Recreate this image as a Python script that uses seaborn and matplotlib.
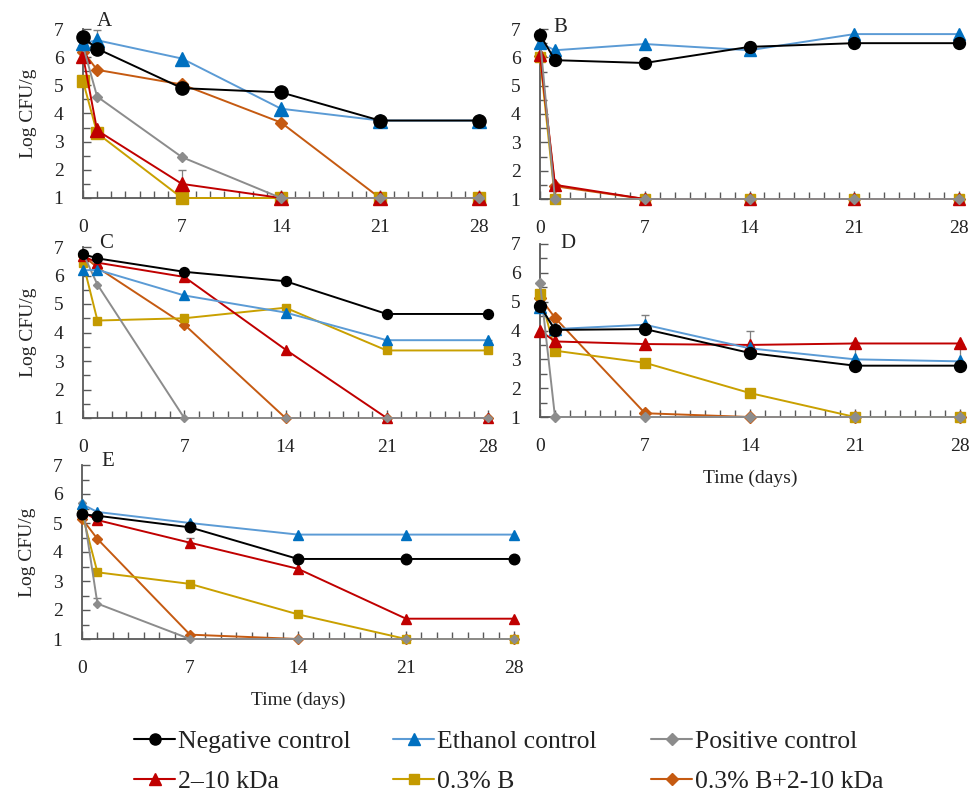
import matplotlib
matplotlib.use("Agg")
import matplotlib.pyplot as plt
from matplotlib.ticker import MultipleLocator
from matplotlib.lines import Line2D
import seaborn as sns
import pandas as pd

sns.set_theme(style="white")
plt.rcParams['font.family'] = ['Liberation Serif', 'DejaVu Serif']

days = [0, 1, 7, 14, 21, 28]
series = ["Negative control", "Ethanol control", "Positive control",
          "2\u201310 kDa", "0.3% B", "0.3% B+2-10 kDa"]

# Panel A
A_neg = [6.7, 6.3, 4.9, 4.75, 3.75, 3.75]
A_eth = [6.5, 6.6, 5.95, 4.17, 3.75, 3.75]
A_pos = [6.4, 4.6, 2.45, 1.0, 1.0, 1.0]
A_red = [6.05, 3.4, 1.5, 1.0, 1.0, 1.0]
A_gold = [5.15, 3.3, 1.0, 1.0, 1.0, 1.0]
A_orange = [6.2, 5.55, 5.03, 3.68, 1.0, 1.0]
# Panel B
B_neg = [6.8, 5.9, 5.8, 6.37, 6.5, 6.5]
B_eth = [6.5, 6.25, 6.47, 6.25, 6.82, 6.82]
B_pos = [6.65, 1.0, 1.0, 1.0, 1.0, 1.0]
B_red = [6.1, 1.5, 1.0, 1.0, 1.0, 1.0]
B_gold = [6.0, 1.0, 1.0, 1.0, 1.0, 1.0]
B_orange = [6.05, 1.45, 1.0, 1.0, 1.0, 1.0]
# Panel C
C_neg = [6.75, 6.6, 6.13, 5.8, 4.65, 4.65]
C_eth = [6.18, 6.2, 5.3, 4.7, 3.73, 3.73]
C_pos = [6.78, 5.68, 1.0, 1.0, 1.0, 1.0]
C_red = [6.68, 6.45, 5.95, 3.4, 1.0, 1.0]
C_gold = [6.45, 4.42, 4.5, 4.87, 3.37, 3.37]
C_orange = [6.7, 6.28, 4.28, 1.0, 1.0, 1.0]
# Panel D
D_neg = [4.85, 4.02, 4.05, 3.22, 2.78, 2.78]
D_eth = [4.8, 4.05, 4.2, 3.38, 3.0, 2.93]
D_pos = [5.65, 1.0, 1.0, 1.0, 1.0, 1.0]
D_red = [4.0, 3.62, 3.53, 3.5, 3.55, 3.55]
D_gold = [5.28, 3.3, 2.88, 1.83, 1.0, 1.0]
D_orange = [5.14, 4.44, 1.13, 1.0, 1.0, 1.0]
# Panel E
E_neg = [5.3, 5.25, 4.85, 3.76, 3.76, 3.76]
E_eth = [5.65, 5.38, 5.0, 4.6, 4.6, 4.6]
E_pos = [5.7, 2.22, 1.0, 1.0, 1.0, 1.0]
E_red = [5.4, 5.1, 4.32, 3.42, 1.7, 1.7]
E_gold = [5.33, 3.3, 2.9, 1.85, 1.0, 1.0]
E_orange = [5.15, 4.45, 1.15, 1.0, 1.0, 1.0]

# visible error bars: (panel, series index, day, error)
err_bars = [("A", 1, 1, 0.35), ("A", 3, 7, 0.5), ("A", 5, 14, 0.25),
            ("C", 4, 21, 0.35), ("C", 4, 28, 0.35), ("C", 5, 7, 0.2),
            ("D", 1, 7, 0.35), ("D", 1, 14, 0.6), ("D", 1, 21, 0.6),
            ("D", 1, 28, 0.6), ("D", 4, 1, 0.5), ("E", 2, 1, 0.2),
            ("E", 3, 7, 0.15)]

panels = {
    "A": [A_neg, A_eth, A_pos, A_red, A_gold, A_orange],
    "B": [B_neg, B_eth, B_pos, B_red, B_gold, B_orange],
    "C": [C_neg, C_eth, C_pos, C_red, C_gold, C_orange],
    "D": [D_neg, D_eth, D_pos, D_red, D_gold, D_orange],
    "E": [E_neg, E_eth, E_pos, E_red, E_gold, E_orange],
}

line_colors = ["#000000", "#5B9BD5", "#8C8C8C", "#C00000", "#C9A000", "#C55A11"]
face_colors = ["#000000", "#0070C0", "#8C8C8C", "#C00000", "#C49A00", "#C55A11"]
markers = ["o", "^", "D", "^", "s", "D"]
msizes = [9.5, 9.5, 5.5, 9.5, 8, 6.5]
legend_msizes = [8, 8, 6, 8, 7, 6.5]
panel_scale = {"A": 1.0, "B": 0.9, "C": 0.75, "D": 0.9, "E": 0.8}

W, H = 969, 796
fig = plt.figure(figsize=(W / 100, H / 100), dpi=100)

# pixel boxes: left, right, top(y=7), bottom(y=1)
boxes = {"A": (83, 479, 29, 198), "B": (540, 959, 29, 199),
         "C": (83, 488, 247, 418), "D": (540, 960, 244, 417),
         "E": (82, 514, 465, 639)}
letter_pos = {"A": (97, 22), "B": (553, 27), "C": (99, 243), "D": (560, 243), "E": (101, 462)}

axis_col = "#595959"
for name, vals in panels.items():
    l, r, t, b = boxes[name]
    ax = fig.add_axes([l / W, (H - b) / H, (r - l) / W, (b - t) / H])
    sc = panel_scale[name]
    for i, s in enumerate(series):
        df = pd.DataFrame({"day": days, "log": vals[i]})
        sns.lineplot(data=df, x="day", y="log", ax=ax, color=line_colors[i],
                     marker=markers[i], markersize=msizes[i] * sc,
                     markerfacecolor=face_colors[i], markeredgecolor=face_colors[i],
                     markeredgewidth=1, linewidth=1.4, clip_on=False,
                     zorder=3 + (5 - i) * 0.1)
    for (p, si, d, e) in err_bars:
        if p == name:
            yv = vals[si][days.index(d)]
            ax.errorbar([d], [yv], yerr=[[0], [e]], fmt="none",
                        ecolor="#7F7F7F", elinewidth=0.9, capsize=3, clip_on=False, zorder=2)
    ax.set_xlim(0, 28)
    ax.set_ylim(1, 7)
    ax.set_xticks([0, 7, 14, 21, 28])
    ax.set_yticks(range(1, 8))
    ax.xaxis.set_minor_locator(MultipleLocator(1))
    ax.yaxis.set_minor_locator(MultipleLocator(0.5))
    ax.tick_params(which="both", direction="in", color=axis_col, labelsize=14,
                   labelcolor="#222222", width=1, bottom=True, left=True)
    ax.tick_params(which="major", length=6)
    ax.tick_params(which="minor", length=5)
    ax.tick_params(axis="x", which="major", pad=15)
    ax.tick_params(axis="y", which="major", pad=14)
    for sp in ["top", "right"]:
        ax.spines[sp].set_visible(False)
    for sp in ["left", "bottom"]:
        ax.spines[sp].set_color(axis_col)
        ax.spines[sp].set_linewidth(1.3)
    ax.set_xlabel("")
    ax.set_ylabel("")
    if name in ("A", "C", "E"):
        ax.set_ylabel("Log CFU/g", fontsize=14, color="#222222", labelpad=12)
    if name in ("D", "E"):
        ax.set_xlabel("Time (days)", fontsize=14, color="#222222", labelpad=11)
    lx, ly = letter_pos[name]
    fig.text(lx / W, 1 - ly / H, name, fontsize=15, ha="left", va="center", color="#222222")

handles = [Line2D([0], [0], color=line_colors[i], marker=markers[i], markersize=legend_msizes[i],
                  markerfacecolor=face_colors[i], markeredgecolor=face_colors[i], linewidth=1.5)
           for i in range(6)]
col_x = [134, 393, 651]
for c in range(3):
    idx = [c, c + 3]
    leg = fig.legend([handles[i] for i in idx], [series[i] for i in idx], ncol=1,
                     loc="upper left", bbox_to_anchor=(col_x[c] / W, 1 - 730 / H),
                     frameon=False, fontsize=18.5, handlelength=1.6, handletextpad=0.1,
                     labelspacing=0.65, borderpad=0, borderaxespad=0,
                     labelcolor="#222222")

fig.savefig("out.png", dpi=100)
